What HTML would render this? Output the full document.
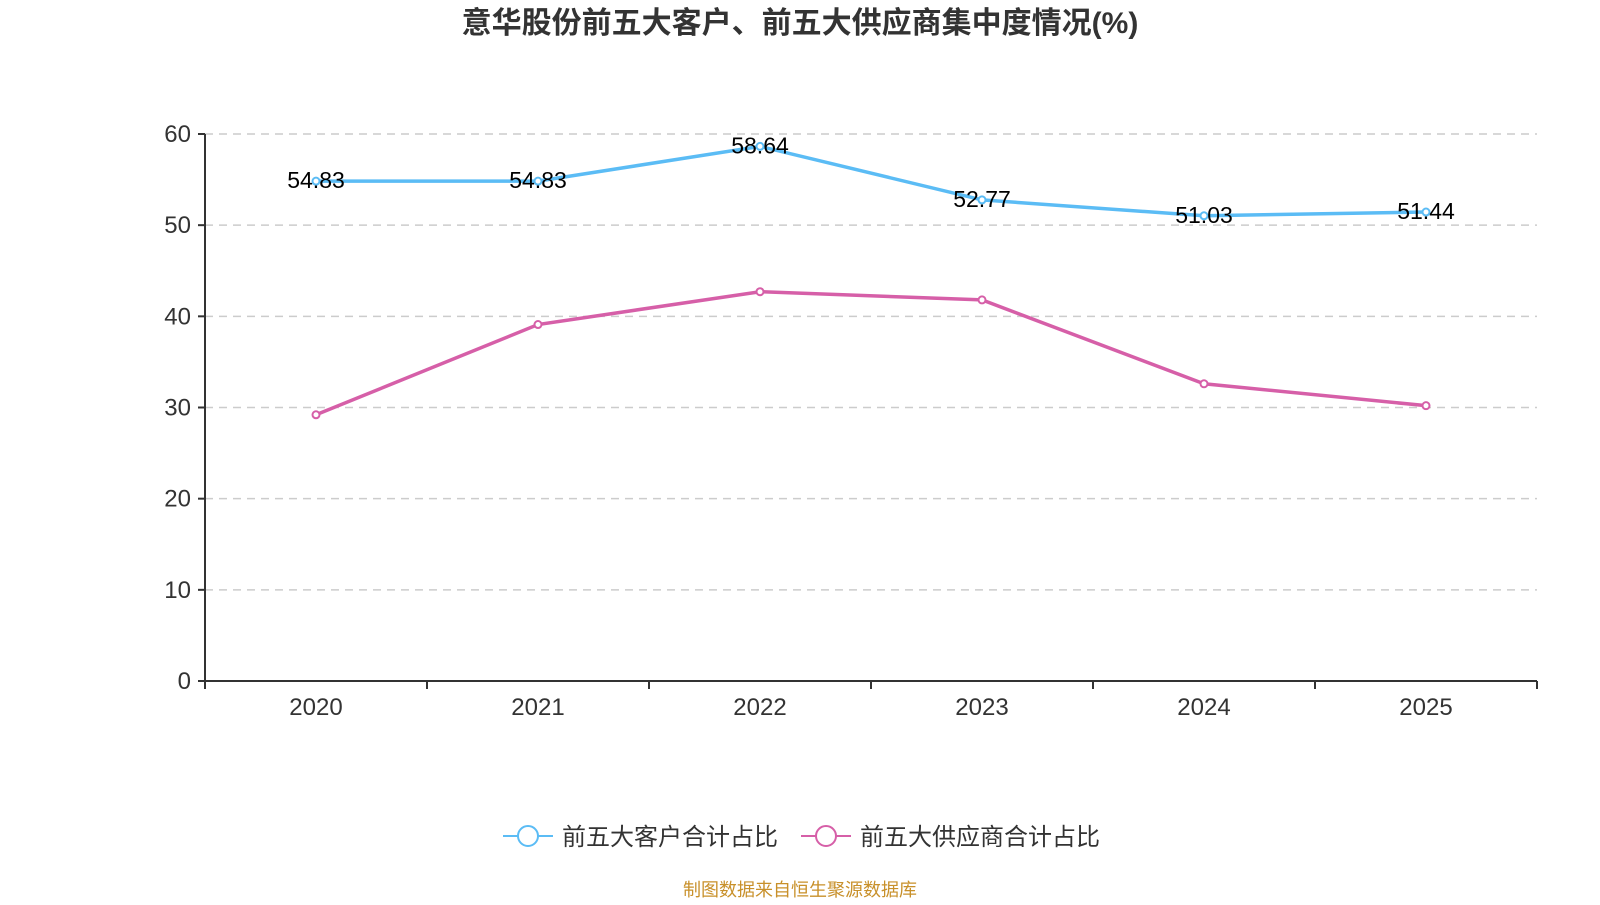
<!DOCTYPE html>
<html><head><meta charset="utf-8"><style>
body{margin:0;width:1600px;height:900px;background:#fff;overflow:hidden;font-family:"Liberation Sans","Noto Sans CJK SC",sans-serif}
</style></head><body>
<svg id="c" width="1600" height="900" xmlns="http://www.w3.org/2000/svg" font-family="Liberation Sans, Noto Sans CJK SC, sans-serif">
<text x="800" y="33" text-anchor="middle" font-size="30" font-weight="bold" fill="#333">意华股份前五大客户、前五大供应商集中度情况(%)</text>
<g id="grid"></g><g id="axes"></g><g id="series"></g>
<g>
<g><line x1="503" y1="836" x2="553" y2="836" stroke="#5bbcf5" stroke-width="2"/><circle cx="528" cy="836" r="10" fill="#fff" stroke="#5bbcf5" stroke-width="2"/><text x="562" y="845" font-size="24" fill="#333">前五大客户合计占比</text></g>
<g><line x1="801" y1="836" x2="851" y2="836" stroke="#d65fa8" stroke-width="2"/><circle cx="826" cy="836" r="10" fill="#fff" stroke="#d65fa8" stroke-width="2"/><text x="860" y="845" font-size="24" fill="#333">前五大供应商合计占比</text></g>
</g>
<text x="800" y="896" text-anchor="middle" font-size="18" fill="#c8902a">制图数据来自恒生聚源数据库</text>
</svg>
<script>
const categories=["2020","2021","2022","2023","2024","2025"];
const customers=[54.83,54.83,58.64,52.77,51.03,51.44];
const suppliers=[29.2,39.1,42.7,41.8,32.6,30.2];
const yTicks=[0,10,20,30,40,50,60];
const NS="http://www.w3.org/2000/svg";
const L=205,R=1537,T=134,B=681,yMax=60;
const bw=(R-L)/categories.length;
const x=i=>L+bw*(i+0.5);
const y=v=>B-(v/yMax)*(B-T);
function mk(tag,attrs,parent){const e=document.createElementNS(NS,tag);for(const k in attrs)e.setAttribute(k,attrs[k]);parent.appendChild(e);return e;}
const grid=document.getElementById('grid'),axes=document.getElementById('axes'),ser=document.getElementById('series');
yTicks.forEach(t=>{
 if(t>0){const g=mk('line',{x1:L,x2:R,y1:y(t),y2:y(t),stroke:'#ccc','stroke-dasharray':'8,6','stroke-width':1.5},grid);
 
 }
 mk('line',{x1:L-7,x2:L,y1:y(t),y2:y(t),stroke:'#333','stroke-width':2},axes);
 const tx=mk('text',{x:L-14,y:y(t)+8,'text-anchor':'end','font-size':24,fill:'#333'},axes);tx.textContent=t;
 
 
});
mk('line',{x1:L,x2:L,y1:T,y2:B,stroke:'#333','stroke-width':2},axes);
mk('line',{x1:L,x2:R,y1:B,y2:B,stroke:'#333','stroke-width':2},axes);
for(let i=0;i<=categories.length;i++)mk('line',{x1:L+bw*i,x2:L+bw*i,y1:B,y2:B+8,stroke:'#333','stroke-width':2},axes);
categories.forEach((c,i)=>{const t=mk('text',{x:x(i),y:B+34,'text-anchor':'middle','font-size':24,fill:'#333'},axes);t.textContent=c;
 
 });
function line(vals,color,name,labels){
 const p=mk('polyline',{points:vals.map((v,i)=>x(i)+','+y(v)).join(' '),fill:'none',stroke:color,'stroke-width':3.5},ser);
 
 
 vals.forEach((v,i)=>{const c=mk('circle',{cx:x(i),cy:y(v),r:3.5,fill:'#fff',stroke:color,'stroke-width':2},ser);
  
  
  if(labels){const t=mk('text',{x:x(i),y:y(v)+7,'text-anchor':'middle','font-size':23,fill:'#000'},ser);t.textContent=v.toFixed(2);
  
  }});
}
line(suppliers,'#d65fa8','suppliers',false);
line(customers,'#5bbcf5','customers',true);
</script>
</body></html>
